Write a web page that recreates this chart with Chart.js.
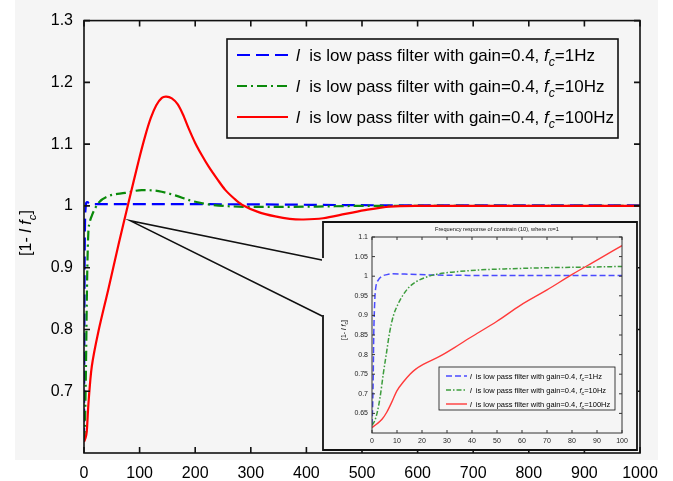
<!DOCTYPE html>
<html>
<head>
<meta charset="utf-8">
<script src="https://cdn.jsdelivr.net/npm/chart.js@4/dist/chart.umd.min.js"></script>
<style>
  html, body { margin: 0; padding: 0; background: #fff; }
  #wrap { position: relative; width: 673px; height: 481px; }
  #main { position: absolute; left: 0; top: 0; }
  #inset { position: absolute; left: 322px; top: 221px; }
</style>
</head>
<body>
<div id="wrap">
  <canvas id="main" width="673" height="481"></canvas>
  <canvas id="inset" width="316" height="230"></canvas>
</div>
<script>
// ---- step response of [1 - l f_c] (main plot) ----
const t1Hz   = [0, 0.5, 1, 1.5, 2, 3, 4, 6, 10, 20, 100, 300, 560, 1000];
const y1Hz   = [0.62, 0.75, 0.88, 0.95, 0.98, 0.997, 1.005, 1.006, 1.004, 1.003, 1.003, 1.0025, 1.001, 1.001];

const t10Hz  = [0, 1.5, 2.7, 4, 4.8, 6, 7.8, 10, 14, 26, 44, 74, 104, 134, 164, 194, 224, 260, 300, 350, 420, 500, 1000];
const y10Hz  = [0.62, 0.64, 0.69, 0.77, 0.83, 0.9, 0.957, 0.972, 0.984, 1.005, 1.016, 1.021, 1.0255, 1.024, 1.017, 1.008, 1.0025, 0.9995, 0.9985, 0.9985, 0.999, 1.0, 1.0];

const t100Hz = [0, 3, 5, 8, 14, 26, 44, 62, 80, 98, 110, 120, 130, 140, 148, 158, 168, 178, 188, 200, 212, 224, 240, 254, 270, 284, 314, 344, 370, 395, 430, 470, 510, 550, 600, 1000];
const y100Hz = [0.618, 0.625, 0.635, 0.68, 0.74, 0.797, 0.866, 0.937, 1.005, 1.072, 1.113, 1.142, 1.163, 1.175, 1.177, 1.174, 1.165, 1.148, 1.126, 1.102, 1.082, 1.064, 1.043, 1.026, 1.012, 1.002, 0.99, 0.983, 0.979, 0.978, 0.98, 0.987, 0.994, 0.999, 1.0, 1.0];

// pointer from the zoomed region to the inset
const calloutX = [430, 83, 430];
const calloutY = [0.912, 0.976, 0.821];

const mainXTicks = [0, 100, 200, 300, 400, 500, 600, 700, 800, 900, 1000];
const mainYTicks = [0.7, 0.8, 0.9, 1.0, 1.1, 1.2, 1.3];

// ---- frequency response of constrain (10) (inset) ----
const f1Hz   = [0, 0.3, 0.5, 0.7, 1, 1.2, 1.6, 2.5, 4, 6, 8, 15, 25, 50, 100];
const g1Hz   = [0.62, 0.68, 0.75, 0.85, 0.92, 0.95, 0.975, 0.99, 1.0, 1.004, 1.006, 1.005, 1.003, 1.002, 1.002];

const f10Hz  = [0, 1, 2, 3.2, 4.5, 5.9, 7, 8.5, 10.5, 12.5, 15, 17.9, 21, 25.9, 33, 43, 55, 72.5, 85, 100];
const g10Hz  = [0.62, 0.63, 0.65, 0.69, 0.75, 0.809, 0.855, 0.898, 0.93, 0.953, 0.973, 0.987, 0.996, 1.005, 1.011, 1.016, 1.019, 1.022, 1.023, 1.025];

const f100Hz = [0, 1.9, 4, 5.9, 8, 9.9, 12.5, 15.2, 17.5, 20.5, 27.2, 33, 39.2, 50, 59.2, 70, 79.9, 90, 100];
const g100Hz = [0.614, 0.623, 0.635, 0.653, 0.68, 0.707, 0.73, 0.75, 0.763, 0.775, 0.796, 0.818, 0.843, 0.885, 0.925, 0.965, 1.004, 1.041, 1.078];

const insetXTicks = [0, 10, 20, 30, 40, 50, 60, 70, 80, 90, 100];
const insetYTicks = [0.65, 0.7, 0.75, 0.8, 0.85, 0.9, 0.95, 1.0, 1.05, 1.1];

const cutoffs = ['1Hz', '10Hz', '100Hz'];

const FAMILY = '"Liberation Sans", Arial, Helvetica, sans-serif';
const BG = '#f5f5f5';
const BLUE = '#0000ff', GREEN = '#0a8a0a', RED = '#ff0000';
const BLUE_I = '#4a4aff', GREEN_I = '#3c9c3c', RED_I = '#ff3a3a';
const DASH = [13, 6], DASHDOT = [10, 4, 2, 4];
const DASH_I = [6, 3], DASHDOT_I = [5, 2, 1.5, 2];

function pts(xs, ys) { return xs.map((x, i) => ({ x: x, y: ys[i] })); }

function fontOf(p, size) {
  const s = p.sub ? size * 0.72 : size;
  return (p.it ? 'italic ' : '') + s + 'px ' + FAMILY;
}
function richWidth(ctx, parts, size) {
  let w = 0;
  parts.forEach(p => { ctx.font = fontOf(p, size); w += ctx.measureText(p.t).width; });
  return w;
}
function drawRich(ctx, parts, x, y, size, align) {
  let cx = align === 'center' ? x - richWidth(ctx, parts, size) / 2 : x;
  ctx.textAlign = 'left';
  ctx.textBaseline = 'alphabetic';
  parts.forEach(p => {
    ctx.font = fontOf(p, size);
    ctx.fillText(p.t, cx, y + (p.sub ? size * 0.3 : 0));
    cx += ctx.measureText(p.t).width;
  });
}
function yTitleParts() {
  return [{ t: '[1- ' }, { t: 'l', it: true }, { t: ' ' }, { t: 'f', it: true }, { t: 'c', it: true, sub: true }, { t: ']' }];
}
function legendParts(rate) {
  return [{ t: 'l', it: true }, { t: '  is low pass filter with gain=0.4, ' }, { t: 'f', it: true }, { t: 'c', it: true, sub: true }, { t: '=' + rate }];
}
function fmt(v) { return String(Math.round(v * 100) / 100); }

function drawFrame(ctx, area, xs, ys, xt, yt, len, lw, color) {
  ctx.save();
  ctx.strokeStyle = color;
  ctx.lineWidth = lw;
  ctx.setLineDash([]);
  ctx.strokeRect(area.left, area.top, area.right - area.left, area.bottom - area.top);
  ctx.beginPath();
  xt.forEach(v => {
    const px = xs.getPixelForValue(v);
    ctx.moveTo(px, area.bottom); ctx.lineTo(px, area.bottom - len);
    ctx.moveTo(px, area.top); ctx.lineTo(px, area.top + len);
  });
  yt.forEach(v => {
    const py = ys.getPixelForValue(v);
    ctx.moveTo(area.left, py); ctx.lineTo(area.left + len, py);
    ctx.moveTo(area.right, py); ctx.lineTo(area.right - len, py);
  });
  ctx.stroke();
  ctx.restore();
}

function drawLegend(ctx, box, rows, size, sample, colors, dashes, lw) {
  ctx.save();
  ctx.fillStyle = BG;
  ctx.fillRect(box.x, box.y, box.w, box.h);
  ctx.strokeStyle = '#111';
  ctx.lineWidth = box.lw;
  ctx.strokeRect(box.x, box.y, box.w, box.h);
  rows.forEach((ry, i) => {
    ctx.beginPath();
    ctx.strokeStyle = colors[i];
    ctx.lineWidth = lw;
    ctx.setLineDash(dashes[i]);
    ctx.moveTo(sample.x0, ry);
    ctx.lineTo(sample.x1, ry);
    ctx.stroke();
    ctx.setLineDash([]);
    ctx.fillStyle = '#000';
    drawRich(ctx, legendParts(cutoffs[i]), sample.tx, ry + size * 0.36, size, 'left');
  });
  ctx.restore();
}

const mainDecor = {
  id: 'mainDecor',
  beforeDraw(chart) {
    const ctx = chart.ctx;
    ctx.save();
    ctx.fillStyle = '#ffffff';
    ctx.fillRect(0, 0, chart.width, chart.height);
    ctx.fillStyle = BG;
    ctx.fillRect(15, 0, 643, 460);
    ctx.restore();
  },
  afterDraw(chart) {
    const ctx = chart.ctx;
    const a = chart.chartArea;
    drawFrame(ctx, a, chart.scales.x, chart.scales.y, mainXTicks, mainYTicks, 6, 1.6, '#111');
    drawLegend(ctx, { x: 227, y: 39, w: 391, h: 99, lw: 1.6 }, [55, 86, 117], 17,
      { x0: 237, x1: 288, tx: 296 }, [BLUE, GREEN, RED], [DASH, DASHDOT, []], 2.2);
    ctx.save();
    ctx.fillStyle = '#000';
    ctx.translate(31, 233);
    ctx.rotate(-Math.PI / 2);
    drawRich(ctx, yTitleParts(), 0, 0, 16, 'center');
    ctx.restore();
  }
};

const insetDecor = {
  id: 'insetDecor',
  beforeDraw(chart) {
    const ctx = chart.ctx;
    ctx.save();
    ctx.fillStyle = BG;
    ctx.fillRect(0, 0, chart.width, chart.height);
    ctx.restore();
  },
  afterDraw(chart) {
    const ctx = chart.ctx;
    const a = chart.chartArea;
    const W = chart.width, H = chart.height;
    drawFrame(ctx, a, chart.scales.x, chart.scales.y, insetXTicks, insetYTicks, 3, 1, '#333');
    // outer box, open on the left where the pointer meets it
    ctx.save();
    ctx.strokeStyle = '#111';
    ctx.lineWidth = 1.8;
    ctx.beginPath();
    ctx.moveTo(1, 37); ctx.lineTo(1, 1); ctx.lineTo(W - 1, 1); ctx.lineTo(W - 1, H - 1); ctx.lineTo(1, H - 1); ctx.lineTo(1, 94);
    ctx.stroke();
    ctx.restore();
    // title
    ctx.save();
    ctx.fillStyle = '#111';
    drawRich(ctx, [{ t: 'Frequency response of constrain (10), where ' }, { t: 'm', it: true }, { t: '=1' }],
      (a.left + a.right) / 2, 10, 5.6, 'center');
    ctx.restore();
    drawLegend(ctx, { x: 117, y: 146, w: 176, h: 43, lw: 0.8 }, [155, 169, 183], 7.5,
      { x0: 124, x1: 145, tx: 148 }, [BLUE_I, GREEN_I, RED_I], [DASH_I, DASHDOT_I, []], 1.4);
    ctx.save();
    ctx.fillStyle = '#111';
    ctx.translate(24, 109);
    ctx.rotate(-Math.PI / 2);
    drawRich(ctx, yTitleParts(), 0, 0, 7, 'center');
    ctx.restore();
  }
};

function lineSet(label, data, color, width, dash, order) {
  return {
    label: label, data: data, borderColor: color, backgroundColor: color,
    borderWidth: width, borderDash: dash, pointRadius: 0, fill: false,
    cubicInterpolationMode: 'monotone', order: order
  };
}

const redMain = lineSet('fc=100Hz', pts(t100Hz, y100Hz), RED, 2.2, [], 1);
redMain.cubicInterpolationMode = 'default';
redMain.tension = 0.3;

new Chart(document.getElementById('main'), {
  type: 'line',
  data: {
    datasets: [
      { label: 'pointer', data: pts(calloutX, calloutY), borderColor: '#111', borderWidth: 1.5, pointRadius: 0, tension: 0, order: 4 },
      lineSet('fc=1Hz', pts(t1Hz, y1Hz), BLUE, 2.2, DASH, 3),
      lineSet('fc=10Hz', pts(t10Hz, y10Hz), GREEN, 2.2, DASHDOT, 2),
      redMain
    ]
  },
  options: {
    responsive: false, animation: false, devicePixelRatio: 1,
    layout: { padding: { top: 16, right: 33, left: 0, bottom: 0 } },
    plugins: { legend: { display: false }, tooltip: { enabled: false }, title: { display: false } },
    scales: {
      x: {
        type: 'linear', min: 0, max: 1000,
        grid: { display: false, drawTicks: false }, border: { display: false },
        ticks: { color: '#000', font: { size: 16, family: FAMILY }, padding: 11, maxRotation: 0, autoSkip: false, callback: v => fmt(v) },
        afterBuildTicks: s => { s.ticks = mainXTicks.map(v => ({ value: v })); },
        afterFit: s => { s.height = 28; }
      },
      y: {
        type: 'linear', min: 0.6, max: 1.3,
        grid: { display: false, drawTicks: false }, border: { display: false },
        ticks: { color: '#000', font: { size: 16, family: FAMILY }, padding: 11, autoSkip: false, callback: v => fmt(v) },
        afterBuildTicks: s => { s.ticks = mainYTicks.map(v => ({ value: v })); },
        afterFit: s => { s.width = 84; }
      }
    }
  },
  plugins: [mainDecor]
});

new Chart(document.getElementById('inset'), {
  type: 'line',
  data: {
    datasets: [
      lineSet('fc=1Hz', pts(f1Hz, g1Hz), BLUE_I, 1.5, DASH_I, 3),
      lineSet('fc=10Hz', pts(f10Hz, g10Hz), GREEN_I, 1.5, DASHDOT_I, 2),
      lineSet('fc=100Hz', pts(f100Hz, g100Hz), RED_I, 1.4, [], 1)
    ]
  },
  options: {
    responsive: false, animation: false, devicePixelRatio: 1,
    layout: { padding: { top: 16, right: 16, left: 0, bottom: 0 } },
    plugins: { legend: { display: false }, tooltip: { enabled: false }, title: { display: false } },
    scales: {
      x: {
        type: 'linear', min: 0, max: 100,
        grid: { display: false, drawTicks: false }, border: { display: false },
        ticks: { color: '#222', font: { size: 7, family: FAMILY }, padding: 4, maxRotation: 0, autoSkip: false, callback: v => fmt(v) },
        afterBuildTicks: s => { s.ticks = insetXTicks.map(v => ({ value: v })); },
        afterFit: s => { s.height = 18; }
      },
      y: {
        type: 'linear', min: 0.6, max: 1.1,
        grid: { display: false, drawTicks: false }, border: { display: false },
        ticks: { color: '#222', font: { size: 7, family: FAMILY }, padding: 4, autoSkip: false, callback: v => fmt(v) },
        afterBuildTicks: s => { s.ticks = insetYTicks.map(v => ({ value: v })); },
        afterFit: s => { s.width = 50; }
      }
    }
  },
  plugins: [insetDecor]
});
</script>
</body>
</html>
